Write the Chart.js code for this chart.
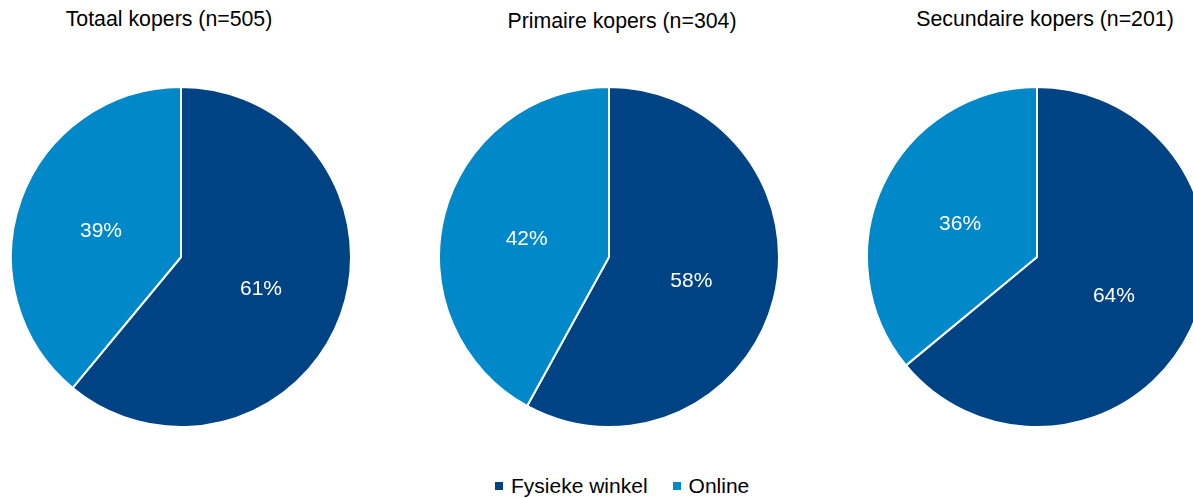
<!DOCTYPE html>
<html>
<head>
<meta charset="utf-8">
<script src="https://cdn.jsdelivr.net/npm/chart.js@4"></script>
<style>
    html, body {
        margin: 0;
        padding: 0;
        width: 1193px;
        height: 498px;
        overflow: hidden;
        background: #fff;
        font-family: 'Liberation Sans', Arial, sans-serif;
    }
    .pie {
        position: absolute;
        width: 342px;
        height: 342px;
    }
    .title {
        position: absolute;
        width: 400px;
        text-align: center;
        font-size: 21.3px;
        line-height: 21px;
        color: #000;
        white-space: nowrap;
    }
    #legend {
        position: absolute;
        top: 475px;
        left: 495px;
        font-size: 21px;
        line-height: 21px;
        color: #000;
        white-space: nowrap;
    }
    .swatch {
        display: inline-block;
        width: 8px;
        height: 8px;
        margin-right: 8px;
        vertical-align: 3px;
    }
</style>
</head>
<body>

<div class="title" style="left: -31px; top: 9px;">Totaal kopers (n=505)</div>
<div class="title" style="left: 422px; top: 11px;">Primaire kopers (n=304)</div>
<div class="title" style="left: 845px; top: 9px;">Secundaire kopers (n=201)</div>

<div class="pie" style="left: 10px; top: 86px;"><canvas id="pieTotal"></canvas></div>
<div class="pie" style="left: 438px; top: 86px;"><canvas id="piePrimary"></canvas></div>
<div class="pie" style="left: 866px; top: 86px;"><canvas id="pieSecondary"></canvas></div>

<div id="legend"></div>

<script>
// categories and shares (%) per buyer group
const categories = ['Fysieke winkel', 'Online'];
const totalShares = [61, 39];
const primaryShares = [58, 42];
const secondaryShares = [64, 36];
const colors = ['#004385', '#0088c9'];

// white percentage text in the middle of each slice
const sliceLabels = {
    id: 'sliceLabels',
    afterDatasetsDraw(chart) {
        const ctx = chart.ctx;
        const meta = chart.getDatasetMeta(0);
        const values = chart.data.datasets[0].data;
        ctx.save();
        ctx.font = '21px "Liberation Sans", Arial, sans-serif';
        ctx.fillStyle = '#fff';
        ctx.textAlign = 'center';
        ctx.textBaseline = 'middle';
        meta.data.forEach((arc, i) => {
            const pos = arc.tooltipPosition();
            ctx.fillText(values[i] + '%', pos.x, pos.y + 3);
        });
        ctx.restore();
    }
};

function makePie(id, shares) {
    return new Chart(document.getElementById(id), {
        type: 'pie',
        data: {
            labels: categories,
            datasets: [{
                data: shares,
                backgroundColor: colors,
                borderColor: '#fff',
                borderWidth: 2
            }]
        },
        options: {
            responsive: true,
            maintainAspectRatio: false,
            animation: false,
            radius: 170,
            layout: { padding: 0 },
            plugins: {
                legend: { display: false },
                tooltip: { enabled: false }
            }
        },
        plugins: [sliceLabels]
    });
}

makePie('pieTotal', totalShares);
makePie('piePrimary', primaryShares);
makePie('pieSecondary', secondaryShares);

// shared legend under the pies
const legend = document.getElementById('legend');
categories.forEach((name, i) => {
    const item = document.createElement('span');
    item.style.marginRight = i === 0 ? '25px' : '0';
    item.innerHTML = '<span class="swatch" style="background:' + colors[i] + '"></span>' + name;
    legend.appendChild(item);
});
</script>
</body>
</html>
